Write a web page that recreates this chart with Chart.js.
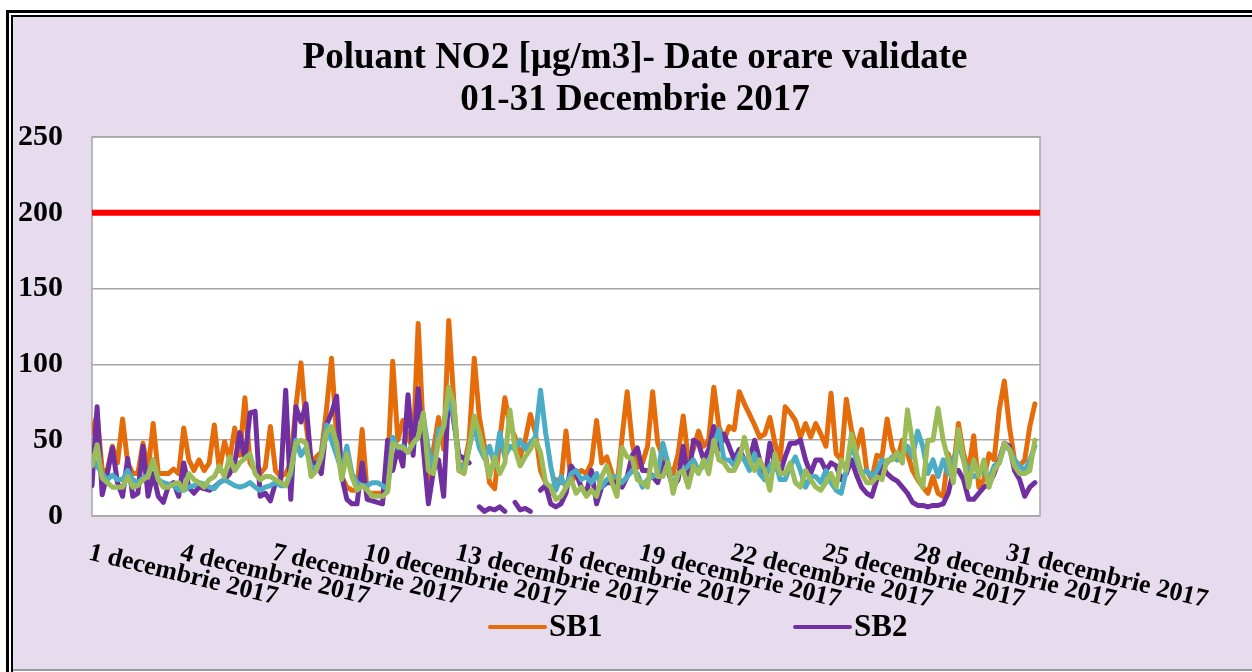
<!DOCTYPE html>
<html>
<head>
<meta charset="utf-8">
<script src="https://cdn.jsdelivr.net/npm/chart.js@4.4.1/dist/chart.umd.min.js"></script>
<style>
  html, body { margin: 0; padding: 0; background: #fff; overflow: hidden; }
  #chart { display: block; }
</style>
</head>
<body>
<canvas id="chart" width="1252" height="672"></canvas>
<script>
// hourly NO2, one value every 4 hours (6 per day), µg/m3
const titleLines = ['Poluant NO2 [µg/m3]- Date orare validate', '01-31 Decembrie 2017'];
const tickDays = [1, 4, 7, 10, 13, 16, 19, 22, 25, 28, 31];
const tickLabels = tickDays.map(d => d + ' decembrie 2017');
const yTicks = [0, 50, 100, 150, 200, 250];
const limitValue = 200;
const perDay = 6;

const sb1 = [
  55, 67, 30, 30, 46, 35,
  64, 35, 28, 28, 48, 30,
  61, 28, 28, 28, 31, 28,
  58, 37, 30, 37, 30, 35,
  60, 30, 49, 37, 58, 40,
  78, 35, 30, 28, 32, 59,
  30, 26, 28, 35, 72, 101,
  60, 35, 39, 42, 70, 104,
  52, 26, 19, 17, 17, 57,
  15, 15, 15, 15, 30, 102,
  50, 63, 52, 44, 127, 55,
  15, 44, 65, 44, 129, 75,
  30, 33, 50, 104, 65, 46,
  22, 18, 50, 78, 60, 52,
  39, 50, 67, 55, 30, 22,
  15, 24, 22, 56, 22, 28,
  30, 28, 35, 63, 35, 39,
  28, 19, 52, 82, 48, 32,
  35, 46, 82, 48, 39, 33,
  28, 41, 66, 37, 44, 56,
  46, 50, 85, 59, 50, 59,
  57, 82, 74, 67, 60, 52,
  54, 65, 48, 37, 72, 68,
  63, 52, 61, 52, 61, 54,
  46, 81, 41, 37, 77, 57,
  44, 57, 30, 24, 40, 39,
  64, 45, 37, 50, 41, 30,
  24, 19, 15, 26, 15, 13,
  41, 30, 61, 41, 30, 53,
  19, 24, 41, 37, 70, 89,
  59, 37, 33, 37, 59, 74
];

const sb2 = [
  20, 72, 14, 28, 45, 22,
  13, 38, 13, 15, 46, 13,
  28, 13, 9, 20, 22, 13,
  35, 19, 15, 19, 18, 17,
  19, 22, 24, 28, 35, 55,
  38, 68, 69, 13, 15, 10,
  22, 22, 83, 11, 72, 62,
  74, 35, 35, 28, 60, 68,
  79, 26, 11, 8, 8, 35,
  11, 10, 9, 8, 50, 30,
  45, 33, 80, 40, 84, 45,
  8, 30, 37, 13, 84, 62,
  40, 38, 35, null, 6, 3,
  5, 4, 6, 3, null, 9,
  4, 5, 3, null, 17, 20,
  8, 6, 8, 15, 33, 28,
  19, 15, 30, 8, 19, 22,
  22, 22, 19, 26, 40, 45,
  30, 30, 26, 22, 35, 30,
  19, 24, 46, 22, 50, 48,
  37, 44, 59, 44, 54, 46,
  37, 44, 37, 37, 50, 37,
  24, 48, 33, 28, 39, 48,
  48, 50, 37, 28, 37, 37,
  30, 35, 33, 24, 28, 37,
  27, 19, 15, 13, 24, 33,
  28, 25, 23, 19, 15, 9,
  7, 7, 6, 7, 7, 8,
  15, 30, 30, 24, 11, 11,
  15, 19, 21, 28, 37, 48,
  46, 30, 24, 13, 19, 22
];

const sb3 = [
  39, 33, 28, 24, 27, 24,
  24, 30, 24, 22, 25, 27,
  37, 24, 22, 21, 20, 17,
  17, 19, 20, 22, 21, 19,
  18, 22, 24, 22, 20, 19,
  20, 22, 19, 17, 19, 20,
  22, 20, 20, 28, 50, 40,
  45, 32, 31, 40, 60, 50,
  40, 30, 46, 28, 22, 20,
  20, 22, 22, 20, 17, 52,
  45, 46, 42, 48, 52, 66,
  44, 30, 57, 59, 79, 65,
  35, 30, 45, 60, 45, 38,
  46, 33, 55, 39, 46, 44,
  50, 44, 48, 52, 83, 55,
  33, 17, 26, 19, 28, 30,
  24, 26, 22, 28, 19, 24,
  26, 26, 22, 26, 30, 28,
  19, 24, 26, 28, 48, 35,
  19, 28, 30, 33, 37, 30,
  33, 35, 46, 57, 37, 37,
  33, 41, 37, 30, 41, 28,
  24, 33, 37, 24, 24, 33,
  39, 30, 19, 26, 26, 22,
  30, 22, 17, 15, 30, 48,
  37, 28, 30, 26, 30, 37,
  35, 39, 37, 41, 46, 39,
  56, 46, 28, 37, 26, 37,
  28, 37, 48, 37, 30, 26,
  28, 30, 24, 33, 35, 46,
  44, 37, 33, 30, 37, 46
];

const sb4 = [
  33, 47, 25, 22, 19, 19,
  19, 26, 19, 20, 24, 26,
  37, 24, 19, 19, 21, 22,
  17, 28, 24, 22, 19, 24,
  26, 33, 26, 39, 30, 35,
  38, 41, 28, 24, 26, 26,
  24, 22, 20, 30, 48, 50,
  48, 26, 30, 39, 55, 59,
  48, 24, 41, 26, 17, 20,
  17, 13, 13, 13, 16, 48,
  46, 45, 42, 48, 52, 68,
  30, 28, 50, 59, 85, 74,
  30, 28, 45, 66, 55, 40,
  26, 39, 28, 35, 70, 44,
  33, 39, 44, 50, 42, 22,
  19, 11, 13, 19, 24, 15,
  19, 13, 17, 13, 26, 33,
  22, 13, 45, 39, 38, 24,
  22, 19, 44, 26, 26, 35,
  15, 28, 30, 19, 33, 28,
  37, 28, 50, 37, 35, 30,
  30, 37, 52, 37, 30, 37,
  30, 17, 41, 28, 28, 35,
  22, 19, 30, 24, 19, 17,
  22, 28, 19, 37, 30, 54,
  41, 28, 22, 22, 26, 24,
  37, 37, 42, 35, 70, 48,
  26, 19, 50, 50, 71, 50,
  37, 22, 57, 37, 19, 37,
  26, 37, 19, 30, 35, 48,
  44, 33, 28, 28, 30, 50
];

const legendShown = ['SB1', 'SB2'];
const serif = '"Liberation Serif", "Times New Roman", serif';

function toPoints(values) {
  return values.map((v, i) => ({ x: i / perDay, y: v }));
}

function series(label, values, color, order) {
  return {
    label: label,
    data: toPoints(values),
    borderColor: color,
    backgroundColor: color,
    borderWidth: 5,
    pointRadius: 0,
    tension: 0,
    spanGaps: false,
    borderJoinStyle: 'round',
    borderCapStyle: 'round',
    order: order
  };
}

const decor = {
  id: 'decor',
  beforeDraw(chart) {
    const { ctx, chartArea: a, width, height } = chart;
    ctx.save();
    // page + lavender panel with a double black edge on the left and top
    ctx.fillStyle = '#ffffff';
    ctx.fillRect(0, 0, width, height);
    ctx.fillStyle = '#e6dcee';
    ctx.fillRect(13, 17, width - 13, height - 19);
    ctx.fillStyle = '#000';
    ctx.fillRect(6, 10, 3, height - 10);
    ctx.fillRect(6, 10, width - 6, 3);
    ctx.fillRect(11, 15, 2, height - 15);
    ctx.fillRect(11, 15, width - 11, 2);
    ctx.fillStyle = '#9a9a9a';
    ctx.fillRect(13, height - 3, width - 13, 2);
    // plot area
    ctx.fillStyle = '#ffffff';
    ctx.fillRect(a.left, a.top, a.right - a.left, a.bottom - a.top);
    ctx.strokeStyle = '#a6a6a6';
    ctx.lineWidth = 1.5;
    ctx.strokeRect(a.left, a.top, a.right - a.left, a.bottom - a.top);
    ctx.restore();
  },
  afterDraw(chart) {
    const { ctx } = chart;
    const xs = chart.scales.x;
    ctx.save();
    ctx.fillStyle = '#000';

    // title
    ctx.font = 'bold 37px ' + serif;
    ctx.textAlign = 'center';
    ctx.textBaseline = 'middle';
    ctx.fillText(titleLines[0], 635, 58);
    ctx.fillText(titleLines[1], 635, 100);

    // slanted date labels
    ctx.font = 'bold 26px ' + serif;
    ctx.textAlign = 'left';
    ctx.textBaseline = 'top';
    tickDays.forEach((d, i) => {
      const px = xs.getPixelForValue(d - 1);
      ctx.save();
      ctx.translate(px, 540);
      ctx.rotate(13.5 * Math.PI / 180);
      ctx.fillText(tickLabels[i], 0, 0);
      ctx.restore();
    });

    // legend
    const spots = [490, 795];
    ctx.font = 'bold 31px ' + serif;
    ctx.textBaseline = 'middle';
    chart.data.datasets.filter(ds => legendShown.includes(ds.label)).forEach((ds, i) => {
      const lx = spots[i];
      ctx.strokeStyle = ds.borderColor;
      ctx.lineWidth = 4;
      ctx.lineCap = 'round';
      ctx.beginPath();
      ctx.moveTo(lx, 627);
      ctx.lineTo(lx + 55, 627);
      ctx.stroke();
      ctx.fillStyle = '#000';
      ctx.fillText(ds.label, lx + 59, 628);
    });
    ctx.restore();
  }
};

new Chart(document.getElementById('chart'), {
  type: 'line',
  data: {
    datasets: [
      {
        label: 'Valoare limita',
        data: [{ x: 0, y: limitValue }, { x: 31, y: limitValue }],
        borderColor: '#ff0000',
        borderWidth: 6,
        pointRadius: 0,
        order: 0
      },
      series('SB1', sb1, '#e46c0a', 4),
      series('SB2', sb2, '#7030a0', 3),
      series('SB3', sb3, '#4bacc6', 2),
      series('SB4', sb4, '#9bbb59', 1)
    ]
  },
  options: {
    responsive: false,
    animation: false,
    devicePixelRatio: 1,
    layout: { padding: { left: 0, top: 137, right: 212, bottom: 156 } },
    plugins: {
      legend: { display: false },
      title: { display: false },
      tooltip: { enabled: false }
    },
    scales: {
      x: {
        type: 'linear',
        display: false,
        min: 0,
        max: 31
      },
      y: {
        min: 0,
        max: 250,
        afterFit(scale) { scale.width = 92; },
        afterBuildTicks(scale) { scale.ticks = yTicks.map(v => ({ value: v })); },
        ticks: {
          padding: 29,
          color: '#000',
          font: { family: serif, size: 30, weight: 'bold' }
        },
        grid: { color: '#a6a6a6', lineWidth: 1.5, drawTicks: false },
        border: { display: false }
      }
    }
  },
  plugins: [decor]
});
</script>
</body>
</html>
